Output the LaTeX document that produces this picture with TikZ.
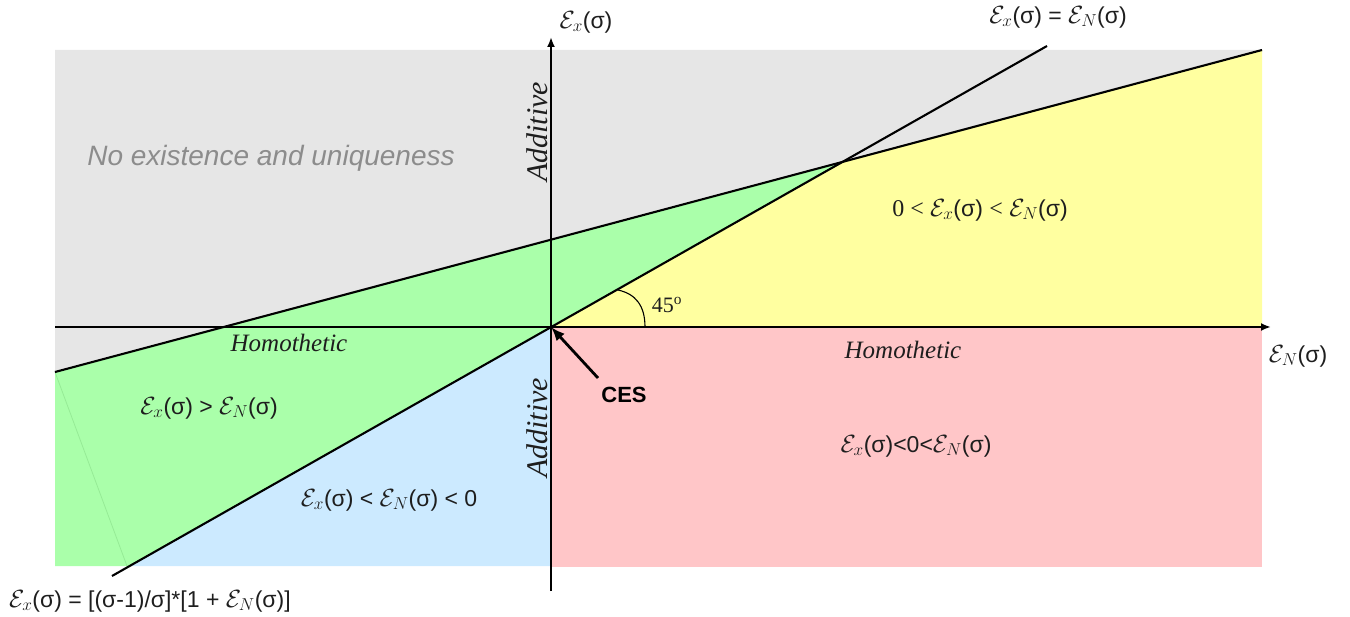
\documentclass[tikz,border=0pt]{standalone}
\usepackage{fontspec}
\setmainfont{Liberation Sans}
\newfontfamily\tnr{Liberation Serif}
\usetikzlibrary{arrows.meta}
\definecolor{cgray}{RGB}{230,230,230}
\definecolor{cgreen}{RGB}{170,255,170}
\definecolor{cgreenline}{RGB}{150,235,150}
\definecolor{cyellow}{RGB}{255,255,160}
\definecolor{cpink}{RGB}{255,198,200}
\definecolor{cblue}{RGB}{204,234,255}
\definecolor{ctext}{RGB}{30,30,30}
\newcommand{\myEx}{$\mathcal{E}_{x}$(σ)}
\newcommand{\myEN}{$\mathcal{E}_{N}$(σ)}
\begin{document}
\begin{tikzpicture}[x=1pt,y=-1pt,
  axis/.style={line width=2.1pt,-{Latex[length=10pt,width=8pt]}},
  bline/.style={line width=2.1pt},
  lab/.style={inner sep=0pt,font=\fontsize{23}{27}\selectfont,text=ctext},
  serlab/.style={inner sep=0pt,font=\fontsize{25}{29}\selectfont\tnr\itshape,text=ctext},
  addlab/.style={inner sep=0pt,font=\fontsize{30}{34}\selectfont\tnr\itshape,text=ctext,rotate=90}]
\useasboundingbox (0,0) rectangle (1350,617);
% key coordinates
\coordinate (O) at (551,327);
\coordinate (UL) at (55,372);
\coordinate (UR) at (1262,50);
\coordinate (DL) at (112,576);
\coordinate (DR) at (1047,46);
\coordinate (I) at (842,162);
\coordinate (GB) at (129.5,566);
\coordinate (XL) at (55,327);
\coordinate (XR) at (1271,327);
\coordinate (YB) at (551,591);
\coordinate (YT) at (551,37);
% regions
\fill[cgray] (55,50) -- (UR) -- (UL) -- cycle;
\fill[cpink] (551,327) rectangle (1262,567);
\fill[cyellow] (O) -- (I) -- (UR) -- (1262,327) -- cycle;
\fill[cgreen] (UL) -- (I) -- (GB) -- (55,566) -- cycle;
\fill[cblue] (O) -- (GB) -- (551,566) -- cycle;
\draw[cgreenline,line width=0.8pt] (UL) -- (127,566);
% lines
\draw[bline] (UL) -- (UR);
\draw[bline] (DL) -- (DR);
\draw[axis] (XL) -- (XR);
\draw[axis] (YB) -- (YT);
% 45 degree arc
\draw[line width=1.1pt] (618,290) .. controls (636,294) and (645,306) .. (645,327);
\node[inner sep=0pt,font=\fontsize{22}{26}\selectfont\tnr,text=ctext] (ang) at (667,305) {45\textsuperscript{o}};
% labels
\node[lab] (ylab) at (586,22) {\myEx};
\node[lab] (diag) at (1058,17) {\myEx\ = \myEN};
\node[lab] (xlab) at (1298,356) {\myEN};
\node[inner sep=0pt,font=\fontsize{28}{32}\selectfont\itshape,text=black!45] (noex) at (271,158) {No existence and uniqueness};
\node[addlab] (add1) at (537,132) {Additive};
\node[addlab] (add2) at (537,428) {Additive};
\node[serlab] (hom1) at (289,343) {Homothetic};
\node[serlab] (hom2) at (903,350) {Homothetic};
\node[lab] (yel) at (980,210) {{\tnr\fontsize{24}{28}\selectfont 0 <} \myEx\ {\tnr\fontsize{24}{28}\selectfont <} \myEN};
\node[lab] (grn) at (209,408) {\myEx\ > \myEN};
\node[lab] (blu) at (389,500) {\myEx\ < \myEN\ < 0};
\node[lab] (pnk) at (916,446) {\myEx<0<\myEN};
\node[lab,anchor=west] (bot) at (9,601) {\myEx\ = [(σ-1)/σ]*[1 + \myEN]};
\node[inner sep=0pt,font=\fontsize{22}{26}\selectfont\bfseries] (ces) at (624,395) {CES};
\coordinate (cestail) at (598,378);
\draw[line width=2.8pt,-{Latex[length=14pt,width=11pt]}] (cestail) -- (O);
\end{tikzpicture}
\end{document}
